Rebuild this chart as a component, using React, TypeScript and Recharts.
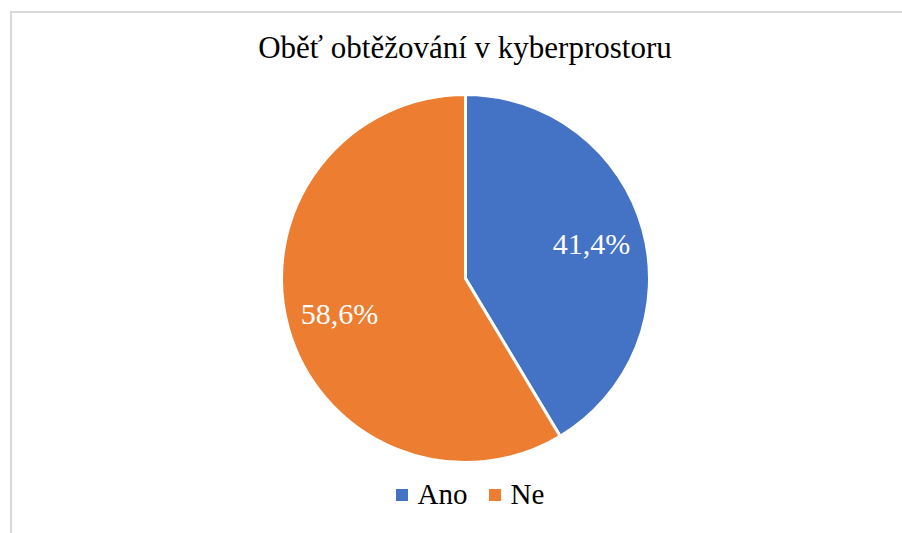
import React from 'react';
import { PieChart, Pie, Cell, Legend } from 'recharts';

const categories = ['Ano', 'Ne'];
const shares = [41.4, 58.6];
const colors = ['#4472C4', '#ED7D31'];
const title = 'Oběť obtěžování v kyberprostoru';

const data = categories.map((name, i) => ({ name, value: shares[i] }));

const RAD = Math.PI / 180;
const FONT = '"Liberation Serif", "Times New Roman", Tinos, "DejaVu Serif", serif';

// percentage labels inside the slices, white, Czech decimal comma
const renderLabel = (props: any) => {
  const { cx, cy, midAngle, outerRadius, value } = props;
  const r = outerRadius * 0.71;
  const x = cx + r * Math.cos(-midAngle * RAD);
  const y = cy + r * Math.sin(-midAngle * RAD);
  return (
    <text
      x={x}
      y={y}
      fill="#ffffff"
      fontSize={30}
      style={{ fontFamily: FONT }}
      textAnchor="middle"
      dominantBaseline="central"
    >
      {value.toFixed(1).replace('.', ',')}%
    </text>
  );
};

const renderLegend = () => (
  <div style={{ display: 'flex', justifyContent: 'center', alignItems: 'center', fontFamily: FONT, fontSize: 29, color: '#000' }}>
    {data.map((d, i) => (
      <div key={d.name} style={{ display: 'flex', alignItems: 'center', marginRight: i === 0 ? 21 : 0 }}>
        <span style={{ display: 'inline-block', width: 12, height: 12, background: colors[i], marginRight: 10 }} />
        <span>{d.name}</span>
      </div>
    ))}
  </div>
);

const App: React.FC = () => {
  return (
    <div style={{ position: 'fixed', left: 0, top: 0, width: 902, height: 533, background: '#fff', overflow: 'hidden' }}>
      {/* chart frame, only top and left edges visible */}
      <div style={{ position: 'absolute', left: 10, top: 11, width: 1000, height: 600, borderLeft: '2px solid #d9d9d9', borderTop: '2px solid #d9d9d9' }} />
      <div
        style={{
          position: 'absolute',
          left: 0,
          top: 30,
          width: 930,
          textAlign: 'center',
          fontFamily: FONT,
          fontSize: 31,
          color: '#000',
          lineHeight: '36px',
        }}
      >
        {title}
      </div>
      <div style={{ position: 'absolute', left: 0, top: 0 }}>
        <PieChart width={902} height={533} margin={{ top: 0, right: 0, bottom: 0, left: 0 }}>
          <Pie
            data={data}
            dataKey="value"
            nameKey="name"
            cx={465.5}
            cy={278.5}
            outerRadius={184}
            startAngle={90}
            endAngle={-270}
            stroke="#ffffff"
            strokeWidth={3}
            label={renderLabel}
            labelLine={false}
            isAnimationActive={false}
          >
            {data.map((d, i) => (
              <Cell key={d.name} fill={colors[i]} />
            ))}
          </Pie>
          <Legend
            content={renderLegend}
            wrapperStyle={{ position: 'absolute', left: 0, top: 478, width: 940, height: 40 }}
          />
        </PieChart>
      </div>
    </div>
  );
};

export default App;
